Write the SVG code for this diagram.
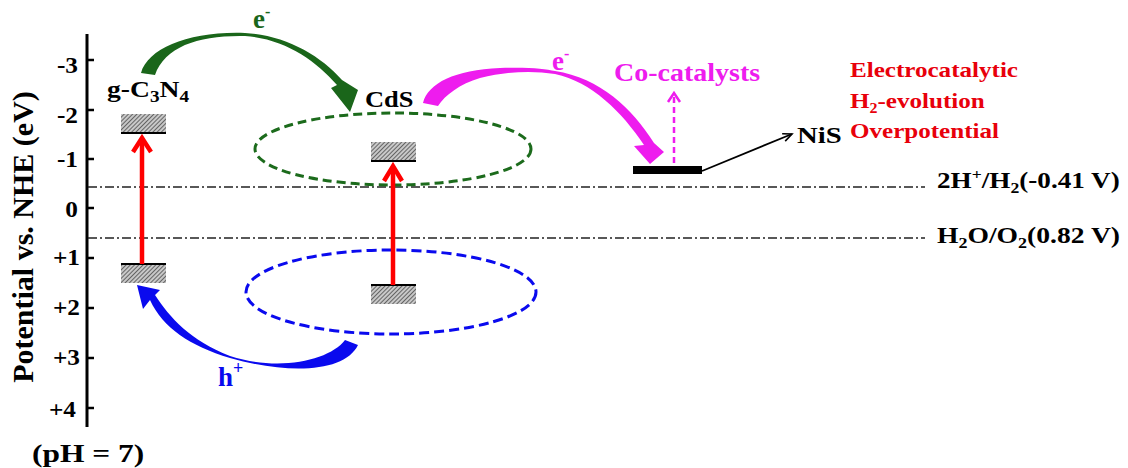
<svg xmlns="http://www.w3.org/2000/svg" width="1128" height="468" viewBox="0 0 1128 468">
<defs>
<pattern id="hatch" width="3" height="3" patternUnits="userSpaceOnUse" patternTransform="rotate(45)">
<rect width="3" height="3" fill="#c8c8c8"/>
<line x1="0" y1="0" x2="0" y2="3" stroke="#222" stroke-width="1.2"/>
</pattern>
<marker id="openhead" markerWidth="12" markerHeight="12" refX="10" refY="5" orient="auto" markerUnits="userSpaceOnUse" viewBox="0 0 12 10">
<polyline points="1,1 10,5 1,9" fill="none" stroke="#000" stroke-width="1.6"/>
</marker>
</defs>
<style>
text{font-family:"Liberation Serif","Times New Roman",serif;font-weight:bold;}
.tick{font-size:23px;text-anchor:end;fill:#000;}
.lbl{font-size:23px;fill:#000;}
.red{font-size:22px;fill:#e8000b;}
.ref{fill:none;stroke:#222;stroke-width:1.3;stroke-dasharray:9 3 2 3;}
.bar{fill:url(#hatch);}
.edge{stroke:#000;stroke-width:2;}
.exc{fill:none;stroke:#ff0000;stroke-width:4.5;}
</style>

<g id="axis">
<line x1="87" y1="34" x2="87" y2="427" stroke="#000" stroke-width="3"/>
<g stroke="#000" stroke-width="2.5">
<line x1="87" y1="60" x2="94" y2="60"/>
<line x1="87" y1="110" x2="94" y2="110"/>
<line x1="87" y1="159" x2="94" y2="159"/>
<line x1="87" y1="208" x2="94" y2="208"/>
<line x1="87" y1="258" x2="94" y2="258"/>
<line x1="87" y1="308" x2="94" y2="308"/>
<line x1="87" y1="358" x2="94" y2="358"/>
<line x1="87" y1="408" x2="94" y2="408"/>
</g>
<text class="tick" transform="translate(78,73) scale(1.1,1)">-3</text>
<text class="tick" transform="translate(78,123) scale(1.1,1)">-2</text>
<text class="tick" transform="translate(78,167) scale(1.1,1)">-1</text>
<text class="tick" transform="translate(78,217) scale(1.1,1)">0</text>
<text class="tick" transform="translate(80,265) scale(1.1,1)">+1</text>
<text class="tick" transform="translate(80,315) scale(1.1,1)">+2</text>
<text class="tick" transform="translate(80,365) scale(1.1,1)">+3</text>
<text class="tick" transform="translate(76,417) scale(1.1,1)">+4</text>
<text transform="translate(33,237) rotate(-90)" text-anchor="middle" font-size="30">Potential vs. NHE (eV)</text>
<text transform="translate(32,462) scale(1.21,1)" font-size="26">(pH = 7)</text>
</g>

<g id="reference-lines">
<line class="ref" x1="88" y1="187" x2="925" y2="187"/>
<line class="ref" x1="88" y1="238" x2="925" y2="238"/>
<text class="lbl" transform="translate(937,188) scale(1.18,1)">2H<tspan font-size="15" dy="-9">+</tspan><tspan dy="9">/H</tspan><tspan font-size="15" dy="5">2</tspan><tspan dy="-5">(-0.41 V)</tspan></text>
<text class="lbl" transform="translate(937,243) scale(1.2,1)">H<tspan font-size="15" dy="5">2</tspan><tspan dy="-5">O/O</tspan><tspan font-size="15" dy="5">2</tspan><tspan dy="-5">(0.82 V)</tspan></text>
</g>

<g id="gC3N4">
<text class="lbl" transform="translate(107,97) scale(1.2,1)">g-C<tspan font-size="16" dy="5">3</tspan><tspan dy="-5">N</tspan><tspan font-size="16" dy="5">4</tspan></text>
<rect class="bar" x="121" y="114" width="45" height="19"/>
<line class="edge" x1="121" y1="133" x2="166" y2="133"/>
<rect class="bar" x="121" y="264" width="45" height="19"/>
<line class="edge" x1="121" y1="264" x2="166" y2="264"/>
</g>

<g id="CdS">
<text class="lbl" transform="translate(365,107) scale(1.15,1)" font-size="24">CdS</text>
<ellipse cx="393" cy="149" rx="138" ry="36" fill="none" stroke="#1c6b1c" stroke-width="3" stroke-dasharray="9 5"/>
<ellipse cx="391" cy="292" rx="145" ry="42" fill="none" stroke="#0a0aee" stroke-width="3" stroke-dasharray="10 5"/>
<rect class="bar" x="371" y="142" width="45" height="19"/>
<line class="edge" x1="371" y1="161" x2="416" y2="161"/>
<rect class="bar" x="371" y="285" width="45" height="19"/>
<line class="edge" x1="371" y1="285" x2="416" y2="285"/>
</g>

<g id="NiS">
<rect x="633" y="166" width="69" height="8" fill="#000"/>
<text class="lbl" transform="translate(797,143) scale(1.25,1)">NiS</text>
</g>

<g id="cocatalysts">
<text transform="translate(614,81) scale(1.12,1)" font-size="25" fill="#ee1cee">Co-catalysts</text>
</g>

<g id="annotation">
<text class="red" transform="translate(850,77) scale(1.14,1)">Electrocatalytic</text>
<text class="red" transform="translate(850,108) scale(1.14,1)">H<tspan font-size="14" dy="5">2</tspan><tspan dy="-5">-evolution</tspan></text>
<text class="red" transform="translate(850,138) scale(1.14,1)">Overpotential</text>
</g>

<g id="connectors">
<!-- excitation arrows -->
<line class="exc" x1="142" y1="264" x2="142" y2="140"/>
<polyline class="exc" points="133,152 142,138 151,152"/>
<line class="exc" x1="393" y1="285" x2="393" y2="167"/>
<polyline class="exc" points="384,181 393,166 402,181"/>
<!-- green electron transfer -->
<path fill="#1a661a" d="M141,73 C148,48 190,31 245,33 C285,35 320,55 342,80 L358,90 L350,112 L331,88 L337,85 C315,60 285,39 245,36 C200,35 165,46 155,75 Z"/>
<text transform="translate(253,28)" font-size="27" fill="#1a661a">e<tspan font-size="16" dy="-11">-</tspan></text>
<!-- magenta electron transfer -->
<path fill="#ee1cee" d="M423,103 C428,83 455,70 500,68 C530,67 545,69 555,71 C600,78 632,108 654,143 L664,152 L650,164 L634,146 L644,145 C622,112 592,82 555,74 C530,70 505,72 480,78 C460,84 445,95 438,106 Z"/>
<text transform="translate(552,70)" font-size="27" fill="#ee1cee">e<tspan font-size="16" dy="-11">-</tspan></text>
<line x1="674" y1="163" x2="674" y2="96" stroke="#ee1cee" stroke-width="2.5" stroke-dasharray="6 4"/>
<polyline points="668,102 674,93 680,102" fill="none" stroke="#ee1cee" stroke-width="2.5"/>
<!-- NiS pointer -->
<line x1="702" y1="171" x2="792" y2="134" stroke="#000" stroke-width="1.8" marker-end="url(#openhead)"/>
<!-- blue hole transfer -->
<path fill="#0a0aee" d="M137,285 L160,290 L155,295 C170,318 190,340 230,356 C280,372 330,360 345,340 L358,345 C345,372 290,375 230,358 C190,346 163,328 150,300 L143,309 Z"/>
<text transform="translate(218,386)" font-size="27" fill="#0a0aee">h<tspan font-size="18" dy="-12">+</tspan></text>
</g>
</svg>
